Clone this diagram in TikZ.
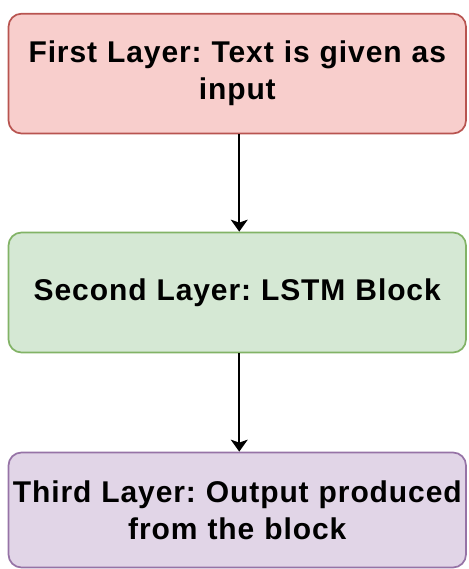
\documentclass[tikz,border=0pt]{standalone}
\usepackage{fontspec}
\setmainfont{Liberation Sans}[LetterSpace=3]
\usetikzlibrary{arrows.meta,calc}

\definecolor{redfill}{HTML}{F8CECC}
\definecolor{redline}{HTML}{B85450}
\definecolor{greenfill}{HTML}{D5E8D4}
\definecolor{greenline}{HTML}{82B366}
\definecolor{purplefill}{HTML}{E1D5E7}
\definecolor{purpleline}{HTML}{9673A6}

\tikzset{
  layerbox/.style={draw, line width=1.7pt, rounded corners=13pt,
    minimum width=457.5pt, text width=455pt, align=center, inner sep=0pt,
    font=\fontsize{30}{37}\selectfont\bfseries\frenchspacing},
  flow/.style={line width=1.8pt, -{Stealth[length=12pt,width=17pt,inset=3pt]}}
}

\begin{document}
\begin{tikzpicture}[x=1pt,y=1pt]
  \useasboundingbox (0,0) rectangle (468,569);

  \node[layerbox, fill=redfill, draw=redline, minimum height=119.8pt]
    (first) at (237.25,495.4) {First Layer: Text is given as\\input};
  \node[layerbox, fill=greenfill, draw=greenline, minimum height=120pt]
    (second) at (237.25,276.5) {Second Layer: LSTM Block};
  \node[layerbox, fill=purplefill, draw=purpleline, minimum height=115pt]
    (third) at (237.25,59) {Third Layer: Output produced\\from the block};

  \draw[flow] ([xshift=2pt]first.south) -- ([xshift=2pt]second.north);
  \draw[flow] ([xshift=2pt]second.south) -- ([xshift=2pt]third.north);
\end{tikzpicture}
\end{document}
